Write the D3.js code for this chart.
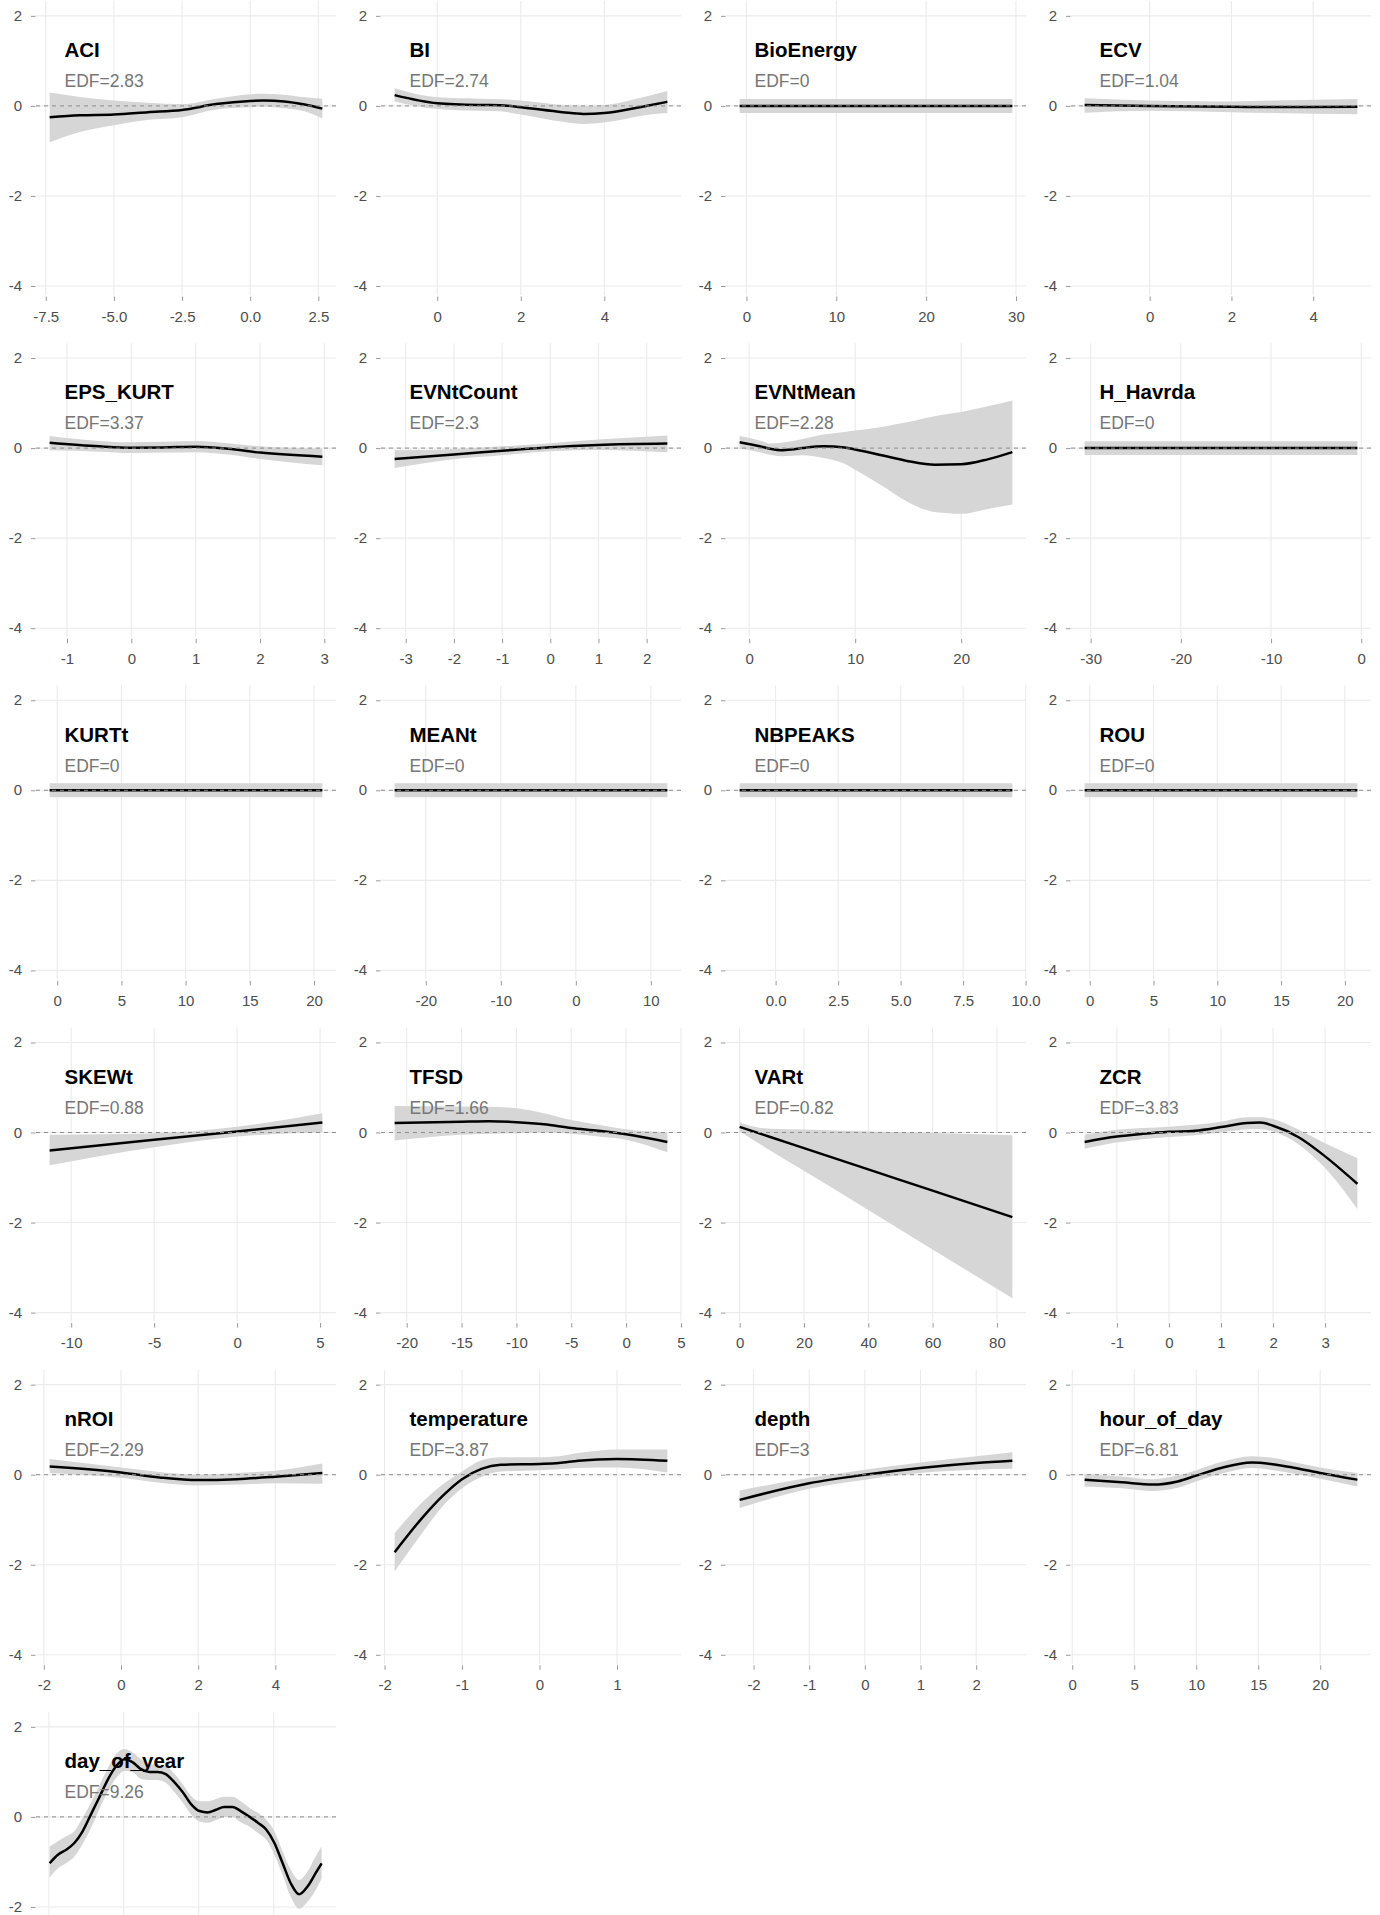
<!DOCTYPE html>
<html>
<head>
<meta charset="utf-8">
<script src="https://cdn.jsdelivr.net/npm/d3@7"></script>
<style>
  html, body { margin: 0; padding: 0; background: #ffffff; }
  svg { display: block; font-family: "Liberation Sans", Arial, Helvetica, sans-serif; }
</style>
</head>
<body>
<svg id="chart" width="1380" height="1915"></svg>
<script>
// ---------------- DATA ----------------
const panelNames = ["ACI","BI","BioEnergy","ECV","EPS_KURT","EVNtCount","EVNtMean","H_Havrda",
  "KURTt","MEANt","NBPEAKS","ROU","SKEWt","TFSD","VARt","ZCR",
  "nROI","temperature","depth","hour_of_day","day_of_year"];
const edfValues = ["2.83","2.74","0","1.04","3.37","2.3","2.28","0",
  "0","0","0","0","0.88","1.66","0.82","3.83",
  "2.29","3.87","3","6.81","9.26"];
const xRanges = [[-7.357,2.647],[-1.02,5.51],[-0.76,29.6],[-1.59,5.08],
  [-1.27,2.97],[-3.23,2.43],[-0.9,24.83],[-30.67,-0.43],
  [-0.59,20.65],[-24.15,12.2],[-1.44,9.47],[-0.4,20.98],
  [-11.3,5.14],[-21.1,3.76],[0,84.8],[-1.62,3.62],
  [-1.85,5.22],[-1.87,1.65],[-2.25,2.65],[1,23],[1,365]];
const xTickValues = [[-7.5,-5,-2.5,0,2.5],[0,2,4],[0,10,20,30],[0,2,4],
  [-1,0,1,2,3],[-3,-2,-1,0,1,2],[0,10,20],[-30,-20,-10,0],
  [0,5,10,15,20],[-20,-10,0,10],[0,2.5,5,7.5,10],[0,5,10,15,20],
  [-10,-5,0,5],[-20,-15,-10,-5,0,5],[0,20,40,60,80],[-1,0,1,2,3],
  [-2,0,2,4],[-2,-1,0,1],[-2,-1,0,1,2],[0,5,10,15,20],[0,100,200,300]];
const xTickDecimals = [1,0,0,0, 0,0,0,0, 0,0,1,0, 0,0,0,0, 0,0,0,0,0];
const yTickValues = [-4,-2,0,2];

// smooth estimates: [x, fit, lower, upper]
const curve_ACI = [[-7.357,-0.25,-0.81,0.30],[-6.25,-0.21,-0.58,0.20],[-5,-0.19,-0.43,0.12],[-3.75,-0.14,-0.31,0.07],
  [-2.5,-0.09,-0.25,0.04],[-1.25,0.04,-0.08,0.16],[0,0.11,-0.03,0.26],[0.5,0.12,-0.02,0.27],
  [1.25,0.10,-0.05,0.25],[2.0,0.03,-0.12,0.19],[2.647,-0.06,-0.28,0.16]];
const curve_BI = [[-1.02,0.24,0.10,0.39],[0,0.06,-0.07,0.19],[1,0.02,-0.11,0.16],[1.5,0.015,-0.12,0.15],
  [2,-0.03,-0.19,0.12],[3,-0.14,-0.35,0.02],[3.5,-0.18,-0.40,0.0],[4,-0.16,-0.37,0.02],
  [5,0.0,-0.2,0.21],[5.51,0.09,-0.16,0.33]];
const curve_BioEnergy = [[-0.76,0,-0.155,0.155],[29.6,0,-0.155,0.155]];
const curve_ECV = [[-1.59,0.02,-0.15,0.17],[0,0.0,-0.11,0.12],[2,-0.02,-0.14,0.10],[3,-0.025,-0.16,0.12],[5.08,-0.02,-0.185,0.155]];
const curve_EPS_KURT = [[-1.27,0.12,-0.05,0.27],[-0.5,0.04,-0.08,0.16],[0,0.01,-0.11,0.13],[0.5,0.015,-0.10,0.14],
  [1,0.03,-0.09,0.16],[1.5,-0.015,-0.14,0.11],[2,-0.10,-0.24,0.04],[2.97,-0.19,-0.38,-0.01]];
const curve_EVNtCount = [[-3.23,-0.24,-0.44,-0.05],[-2,-0.14,-0.25,-0.02],[-1,-0.06,-0.16,0.04],[0,0.02,-0.07,0.11],
  [1,0.07,-0.04,0.19],[2.43,0.10,-0.09,0.28]];
const curve_EVNtMean = [[-0.9,0.13,-0.015,0.27],[1,0.04,-0.09,0.17],[2,-0.015,-0.15,0.10],[3,-0.045,-0.18,0.12],
  [4,-0.03,-0.17,0.15],[5,0.0,-0.16,0.20],[7,0.04,-0.22,0.30],[9,0.015,-0.35,0.36],[10,-0.03,-0.48,0.39],
  [12.5,-0.16,-0.83,0.47],[15,-0.29,-1.2,0.58],[17.5,-0.37,-1.42,0.71],[20,-0.36,-1.46,0.80],
  [22.5,-0.25,-1.35,0.93],[24.83,-0.09,-1.25,1.06]];
const curve_H_Havrda = [[-30.67,0,-0.155,0.155],[-0.43,0,-0.155,0.155]];
const curve_KURTt = [[-0.59,0,-0.155,0.155],[20.65,0,-0.155,0.155]];
const curve_MEANt = [[-24.15,0,-0.155,0.155],[12.2,0,-0.155,0.155]];
const curve_NBPEAKS = [[-1.44,0,-0.155,0.155],[9.47,0,-0.155,0.155]];
const curve_ROU = [[-0.4,0,-0.155,0.155],[20.98,0,-0.155,0.155]];
const curve_SKEWt = [[-11.3,-0.40,-0.73,-0.05],[-5,-0.16,-0.33,-0.015],[0,0.02,-0.09,0.13],[5.14,0.22,0.0,0.43]];
const curve_TFSD = [[-21.1,0.21,-0.18,0.59],[-15,0.24,-0.05,0.58],[-12.5,0.25,-0.03,0.57],[-10,0.23,-0.015,0.54],
  [-7.5,0.185,0.0,0.43],[-5,0.10,-0.03,0.28],[-2.5,0.04,-0.09,0.17],[0,-0.04,-0.16,0.07],[3.76,-0.21,-0.44,0.0]];
const curve_VARt = [[0,0.126,0.02,0.23],[5,0.008,-0.20,0.12],[10,-0.11,-0.42,0.085],[20,-0.347,-0.85,0.065],
  [40,-0.82,-1.72,0.025],[60,-1.29,-2.60,-0.01],[84.8,-1.88,-3.68,-0.06]];
const curve_ZCR = [[-1.62,-0.21,-0.36,-0.05],[-1,-0.09,-0.22,0.06],[-0.5,-0.03,-0.15,0.10],[0,0.015,-0.10,0.13],
  [0.5,0.04,-0.06,0.17],[1,0.12,0.0,0.24],[1.5,0.21,0.07,0.34],[1.75,0.22,0.08,0.34],[2,0.15,0.02,0.30],
  [2.5,-0.11,-0.27,0.06],[3,-0.53,-0.79,-0.24],[3.62,-1.14,-1.70,-0.57]];
const curve_nROI = [[-1.85,0.18,0.04,0.35],[0,0.05,-0.07,0.16],[1,-0.06,-0.18,0.06],[2,-0.12,-0.24,0.0],
  [3,-0.10,-0.22,0.04],[4,-0.045,-0.19,0.09],[5.22,0.04,-0.2,0.25]];
const curve_temperature = [[-1.87,-1.72,-2.15,-1.30],[-1.5,-0.93,-1.26,-0.59],[-1.25,-0.47,-0.70,-0.22],
  [-1,-0.10,-0.30,0.07],[-0.75,0.13,-0.05,0.32],[-0.5,0.22,0.07,0.39],[0,0.24,0.10,0.39],
  [0.25,0.26,0.12,0.41],[0.5,0.31,0.15,0.48],[1,0.35,0.16,0.56],[1.65,0.31,0.05,0.56]];
const curve_depth = [[-2.25,-0.56,-0.74,-0.35],[-1,-0.19,-0.31,-0.07],[0,0,-0.11,0.11],[1,0.15,0.04,0.27],
  [2,0.26,0.11,0.41],[2.65,0.31,0.13,0.50]];
const curve_hour_of_day = [[1,-0.11,-0.26,0.015],[4,-0.17,-0.30,-0.04],[6.5,-0.22,-0.36,-0.10],[8.5,-0.15,-0.29,-0.02],
  [10,-0.02,-0.15,0.10],[12,0.15,0.02,0.28],[14.5,0.27,0.15,0.41],[16,0.24,0.11,0.38],[18,0.15,0.015,0.27],
  [20,0.04,-0.09,0.16],[23,-0.11,-0.26,0.04]];
const curve_day_of_year = [[1,-1.03,-1.35,-0.66],[12,-0.84,-1.14,-0.54],[23,-0.73,-1.03,-0.43],[34,-0.58,-0.88,-0.32],
  [45,-0.32,-0.60,-0.02],[56,0.05,-0.25,0.31],[68,0.46,0.20,0.72],[79,0.84,0.57,1.10],[90,1.13,0.87,1.40],
  [101,1.28,1.02,1.51],[112,1.21,0.99,1.43],[123,1.06,0.84,1.28],[134,1.0,0.82,1.17],[145,1.0,0.82,1.17],
  [156,0.95,0.76,1.13],[168,0.76,0.54,0.95],[179,0.54,0.31,0.72],[190,0.28,0.05,0.46],[201,0.13,-0.10,0.35],
  [212,0.10,-0.13,0.35],[223,0.16,-0.07,0.40],[234,0.22,0.0,0.45],[245,0.22,0.0,0.45],[256,0.13,-0.12,0.35],
  [268,0.0,-0.22,0.20],[279,-0.13,-0.36,0.09],[290,-0.28,-0.51,-0.06],[301,-0.58,-0.84,-0.32],[312,-1.03,-1.29,-0.77],
  [323,-1.48,-1.78,-1.18],[334,-1.72,-2.04,-1.40],[345,-1.55,-1.89,-1.22],[356,-1.25,-1.63,-0.88],[364,-1.03,-1.37,-0.66]];

const curves = [curve_ACI, curve_BI, curve_BioEnergy, curve_ECV, curve_EPS_KURT, curve_EVNtCount, curve_EVNtMean,
  curve_H_Havrda, curve_KURTt, curve_MEANt, curve_NBPEAKS, curve_ROU, curve_SKEWt, curve_TFSD, curve_VARt,
  curve_ZCR, curve_nROI, curve_temperature, curve_depth, curve_hour_of_day, curve_day_of_year];

// ---------------- LAYOUT ----------------
const W = 1380, H = 1915;
const colW = 345, rowH = 342.2, topOffset = 1;
const pLeft = 36, pRight = 336, pHeight = 294;
const yDomain = [-4.2, 2.33];
const tickFont = 15;

const svg = d3.select("#chart");
svg.append("rect").attr("width", W).attr("height", H).attr("fill", "#ffffff");

panelNames.forEach((name, i) => {
  const col = i % 4, row = Math.floor(i / 4);
  const oy = topOffset + row * rowH;
  const g = svg.append("g").attr("transform", `translate(${col * colW},${oy})`);
  const [xmin, xmax] = xRanges[i];
  const pad = 0.05 * (xmax - xmin);
  const x = d3.scaleLinear().domain([xmin - pad, xmax + pad]).range([pLeft, pRight]);
  const y = d3.scaleLinear().domain(yDomain).range([pHeight, 0]);
  const ticks = xTickValues[i];
  const fmt0 = d3.format("." + xTickDecimals[i] + "f");
  const fmt = d => fmt0(d).replace("\u2212", "-");

  // gridlines
  g.append("g").selectAll("line").data(ticks).join("line")
    .attr("x1", d => x(d)).attr("x2", d => x(d)).attr("y1", 0).attr("y2", pHeight)
    .attr("stroke", "#ebebeb").attr("stroke-width", 1.1);
  g.append("g").selectAll("line").data(yTickValues).join("line")
    .attr("x1", pLeft).attr("x2", pRight).attr("y1", d => y(d)).attr("y2", d => y(d))
    .attr("stroke", "#ebebeb").attr("stroke-width", 1.1);

  const data = curves[i];
  const area = d3.area().x(d => x(d[0])).y0(d => y(d[2])).y1(d => y(d[3])).curve(d3.curveMonotoneX);
  const line = d3.line().x(d => x(d[0])).y(d => y(d[1])).curve(d3.curveMonotoneX);
  g.append("path").datum(data).attr("d", area).attr("fill", "#d6d6d6");
  g.append("path").datum(data).attr("d", line).attr("fill", "none")
    .attr("stroke", "#000000").attr("stroke-width", 2.5).attr("stroke-linejoin", "round");

  // zero reference line
  g.append("line").attr("x1", pLeft).attr("x2", pRight).attr("y1", y(0)).attr("y2", y(0))
    .attr("stroke", "#8c8c8c").attr("stroke-width", 1).attr("stroke-dasharray", "4,4");

  // axes
  const axes = [];
  const axisY = pHeight + 1.5;
  if (oy + axisY < H) {
    const xAxis = d3.axisBottom(x).tickValues(ticks).tickFormat(fmt).tickSize(4.5).tickPadding(10);
    const gx = g.append("g").attr("transform", `translate(0,${axisY})`).call(xAxis);
    // hide labels that would fall below the picture (the reference is cut there)
    if (oy + axisY + 26 > H) gx.selectAll(".tick text").remove();
    axes.push(gx);
  }
  const yAxis = d3.axisLeft(y).tickValues(yTickValues).tickFormat(d => String(d)).tickSize(4.5).tickPadding(9);
  const gy = g.append("g").attr("transform", `translate(${pLeft - 0.5},0)`).call(yAxis);
  axes.push(gy);
  axes.forEach(a => {
    a.select(".domain").remove();
    a.selectAll(".tick line").attr("stroke", "#999999").attr("stroke-width", 1);
    a.selectAll(".tick text").attr("fill", "#4d4d4d").style("font-size", tickFont + "px")
      .style("font-family", "'Liberation Sans', Arial, sans-serif");
  });
  gy.selectAll(".tick text").attr("dy", "0.3em");

  // labels
  g.append("text").attr("x", 64.5).attr("y", 56.3).text(name)
    .attr("fill", "#000000").style("font-size", "20.5px").style("font-weight", "bold");
  g.append("text").attr("x", 64.5).attr("y", 86.3).text("EDF=" + edfValues[i])
    .attr("fill", "#767676").style("font-size", "17.5px");
});
</script>
</body>
</html>
